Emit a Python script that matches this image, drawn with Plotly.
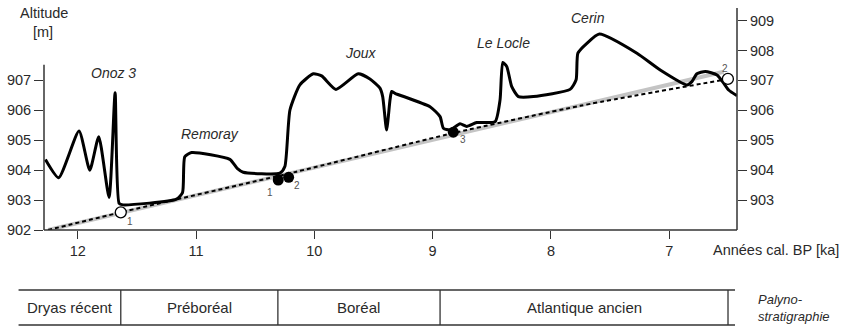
import plotly.graph_objects as go

# ---------------- data ----------------
# Lake-level / altitude curve (ka cal BP, altitude m)
curve_t = [12.273, 12.161, 11.989, 11.898, 11.822, 11.735, 11.684, 11.650, 11.617, 11.165,
           11.114, 11.095, 11.038, 10.714, 10.652, 10.601, 10.291, 10.249, 10.206, 10.122,
           10.009, 9.938, 9.817, 9.629, 9.530, 9.445, 9.422, 9.389, 9.360, 9.346,
           9.318, 9.022, 8.937, 8.909, 8.853, 8.768, 8.712, 8.627, 8.472, 8.430,
           8.407, 8.373, 8.331, 8.275, 8.148, 7.838, 7.787, 7.772, 7.696, 7.590,
           7.273, 7.076, 6.850, 6.808, 6.766, 6.695, 6.596, 6.540, 6.498, 6.427]
curve_v = [904.36, 903.75, 905.31, 904.00, 905.12, 903.09, 906.59, 902.89, 902.84, 903.03,
           903.25, 904.45, 904.59, 904.36, 904.06, 903.93, 903.90, 904.12, 906.01, 906.85,
           907.22, 907.15, 906.70, 907.22, 907.05, 906.74, 906.46, 905.34, 906.35, 906.63,
           906.57, 906.12, 905.79, 905.40, 905.34, 905.55, 905.46, 905.59, 905.62, 906.35,
           907.60, 907.46, 906.79, 906.46, 906.46, 906.70, 907.02, 907.91, 908.24, 908.55,
           907.91, 907.35, 906.85, 906.96, 907.22, 907.30, 907.18, 906.91, 906.68, 906.49]

# dotted trend line
trend_t = [12.251, 11.636, 10.150, 8.825, 7.753, 6.512]
trend_v = [902.00, 902.59, 903.95, 905.24, 906.15, 907.04]

# grey regression line
grey_t = [12.25, 6.54]
grey_v = [902.00, 907.29]

# dated points
open_t = [11.636, 6.504]
open_v = [902.59, 907.05]
open_lbl = ["1", "2"]
filled_t = [10.305, 10.217, 8.825]
filled_v = [903.67, 903.76, 905.27]
filled_lbl = ["1", "2", "3"]

# site names
site_names = ["Onoz 3", "Remoray", "Joux", "Le Locle", "Cerin"]
site_t = [11.70, 10.883, 9.606, 8.404, 7.685]
site_v = [907.25, 905.21, 907.92, 908.25, 909.09]

# pollen zones (boundaries in ka cal BP)
zone_names = ["Dryas récent", "Préboréal", "Boréal", "Atlantique ancien"]
zone_bounds = [12.50, 11.636, 10.308, 8.937, 6.503]

x_ticks = [12, 11, 10, 9, 8, 7]
y_left_ticks = [902, 903, 904, 905, 906, 907]
y_right_ticks = [903, 904, 905, 906, 907, 908, 909]

X_RANGE = [12.285, 6.427]
Y_RANGE = [902.0, 909.42]

FONT = "Liberation Sans, Arial, Helvetica, sans-serif"
TXT = "#2a2a2a"
AX = "#333333"

# plot-area geometry in pixels (used only to place paper-referenced text)
L, R, T, B = 44, 106, 8, 97
W, H = 843, 327
PW, PH = W - L - R, H - T - B


def px_x(x):
    return (x - L) / PW


def px_y(y):
    return (H - B - y) / PH


def note(x, y, text, size, xanchor="center", xref="paper", yref="paper", color=TXT, align="center"):
    return dict(x=x, y=y, xref=xref, yref=yref, text=text, showarrow=False,
                xanchor=xanchor, yanchor="middle", align=align,
                font=dict(size=size, color=color, family=FONT))


# ---------------- figure ----------------
fig = go.Figure()

fig.add_trace(go.Scatter(x=grey_t, y=grey_v, mode="lines",
                         line=dict(color="#c4c4c4", width=4), hoverinfo="skip"))
fig.add_trace(go.Scatter(x=trend_t, y=trend_v, mode="lines",
                         line=dict(color="black", width=2, dash="4px,3px", shape="spline", smoothing=0.6),
                         hoverinfo="skip"))
fig.add_trace(go.Scatter(x=curve_t, y=curve_v, mode="lines",
                         line=dict(color="black", width=3, shape="spline", smoothing=0.55),
                         hoverinfo="skip"))
fig.add_trace(go.Scatter(x=open_t, y=open_v, mode="markers",
                         marker=dict(size=11, color="white", line=dict(color="black", width=1.3))))
fig.add_trace(go.Scatter(x=filled_t, y=filled_v, mode="markers",
                         marker=dict(size=11, color="black", line=dict(color="black", width=0))))
# invisible trace for the right axis
fig.add_trace(go.Scatter(x=[X_RANGE[0]], y=[Y_RANGE[0]], yaxis="y2", mode="markers",
                         marker=dict(opacity=0), hoverinfo="skip"))

annotations = []
# point labels
lbl_off = {("o", 0): (0.08, -0.31), ("o", 1): (-0.025, 0.36),
           ("f", 0): (-0.07, -0.42), ("f", 1): (0.067, -0.26), ("f", 2): (0.08, -0.26)}
for i, (t, v, s) in enumerate(zip(open_t, open_v, open_lbl)):
    dx, dy = lbl_off[("o", i)]
    annotations.append(note(t - dx, v + dy, s, 10, xref="x", yref="y", color="#555555"))
for i, (t, v, s) in enumerate(zip(filled_t, filled_v, filled_lbl)):
    dx, dy = lbl_off[("f", i)]
    annotations.append(note(t - dx, v + dy, s, 10, xref="x", yref="y", color="#555555"))
# site names
for s, t, v in zip(site_names, site_t, site_v):
    annotations.append(note(t, v, "<i>%s</i>" % s, 14, xref="x", yref="y"))

# axis titles
annotations.append(note(px_x(44), px_y(12.5), "Altitude", 14.5))
annotations.append(note(px_x(43), px_y(32), "[m]", 14.5))
annotations.append(note(px_x(711), px_y(250), "Années cal. BP [ka]", 14.5, xanchor="left"))

# pollen zone table
span = X_RANGE[0] - X_RANGE[1]


def xp(t):
    return (X_RANGE[0] - t) / span


ytop = px_y(290)
ybot = px_y(325)
shapes = []
line_style = dict(color=AX, width=1.3)
shapes.append(dict(type="line", xref="paper", yref="paper", x0=xp(zone_bounds[0]), x1=px_x(735),
                   y0=ytop, y1=ytop, line=line_style))
shapes.append(dict(type="line", xref="paper", yref="paper", x0=xp(zone_bounds[0]), x1=px_x(735),
                   y0=ybot, y1=ybot, line=line_style))
for b in zone_bounds[1:]:
    shapes.append(dict(type="line", xref="paper", yref="paper", x0=xp(b), x1=xp(b),
                       y0=ytop, y1=ybot, line=line_style))
for i, name in enumerate(zone_names):
    xm = (xp(zone_bounds[i]) + xp(zone_bounds[i + 1])) / 2
    annotations.append(note(xm, (ytop + ybot) / 2, name, 15))
annotations.append(note(px_x(756), px_y(308), "<i>Palyno-<br>stratigraphie</i>", 13,
                        xanchor="left", align="left"))

# axis lines (left axis shorter than right)
shapes.append(dict(type="line", xref="paper", yref="paper", x0=0, x1=1, y0=0, y1=0,
                   line=dict(color=AX, width=1.5)))
shapes.append(dict(type="line", xref="paper", yref="y", x0=0, x1=0, y0=902, y1=907.52,
                   line=dict(color=AX, width=1.5)))
shapes.append(dict(type="line", xref="paper", yref="paper", x0=1, x1=1, y0=0, y1=1,
                   line=dict(color=AX, width=1.5)))

fig.update_layout(
    width=W, height=H,
    margin=dict(l=L, r=R, t=T, b=B, autoexpand=False),
    paper_bgcolor="white", plot_bgcolor="white",
    showlegend=False,
    font=dict(family=FONT, size=14, color=TXT),
    xaxis=dict(range=X_RANGE, tickvals=x_ticks, ticktext=[str(v) for v in x_ticks],
               ticks="outside", ticklen=8, tickwidth=1.3, tickcolor=AX, automargin=False,
               showgrid=False, zeroline=False, showline=False,
               tickfont=dict(size=14.5, color=TXT, family=FONT)),
    yaxis=dict(range=Y_RANGE, tickvals=y_left_ticks, ticks="outside", ticklen=9, tickwidth=1.3,
               tickcolor=AX, showgrid=False, zeroline=False, showline=False, automargin=False,
               tickfont=dict(size=14.5, color=TXT, family=FONT)),
    yaxis2=dict(range=Y_RANGE, overlaying="y", side="right", tickvals=y_right_ticks,
                ticks="outside", ticklen=9, tickwidth=1.3, tickcolor=AX, automargin=False,
                showgrid=False, zeroline=False, showline=False,
                tickfont=dict(size=14.5, color=TXT, family=FONT)),
    shapes=shapes,
    annotations=annotations,
)

# remove the browser's default 8px body margin so the figure sits at the page origin
fig.write_html("out.html", config={"displayModeBar": False},
               post_script="document.body.style.margin='0px';")
